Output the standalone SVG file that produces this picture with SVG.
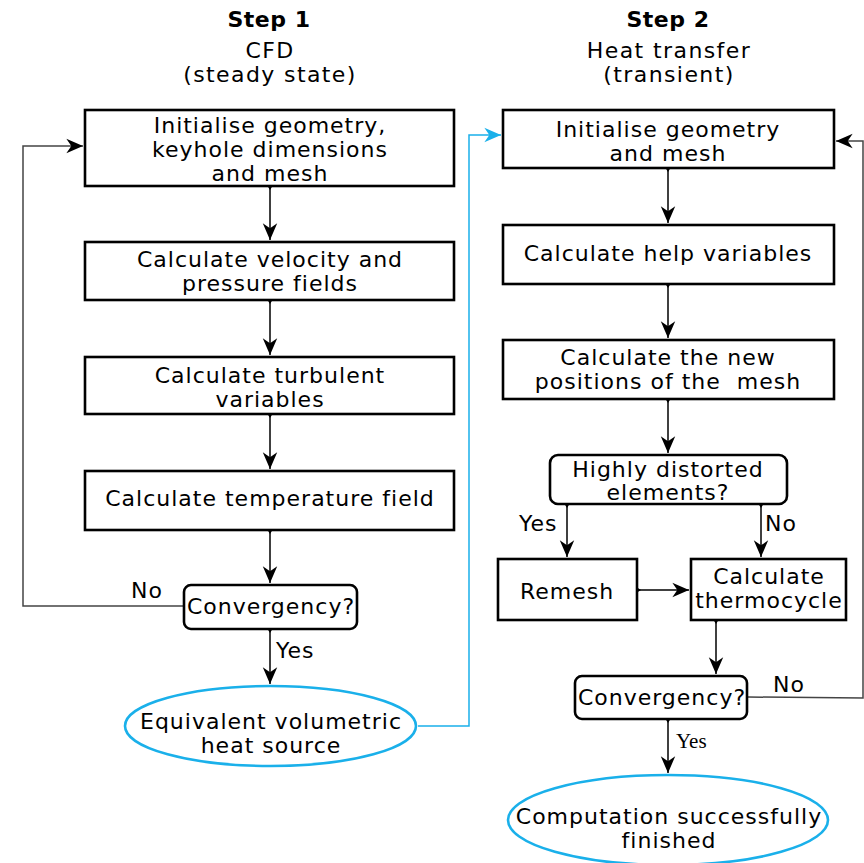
<svg xmlns="http://www.w3.org/2000/svg" width="864" height="863" viewBox="0 0 864 863">
<defs>
<style>
text{font-family:"DejaVu Sans","Verdana",sans-serif;font-size:22px;letter-spacing:1px;fill:#000;text-anchor:middle}
.title{font-weight:bold;letter-spacing:0.5px}
.sub{font-size:22px;letter-spacing:1.4px}
.serif{font-family:"Liberation Serif","Times New Roman",serif;font-size:21px;letter-spacing:0}
.box{fill:#fff;stroke:#000;stroke-width:2.6}
.oval{fill:#fff;stroke:#1ab0ea;stroke-width:2.6}
.c{fill:none;stroke:#000;stroke-width:1.5}
.cb{fill:none;stroke:#1ab0ea;stroke-width:1.5}
.cg{fill:none;stroke:#444;stroke-width:1.5}
.lbl{text-anchor:start}
</style>
<marker id="ah" markerUnits="userSpaceOnUse" markerWidth="20" markerHeight="20" viewBox="-16 -8 18 16" refX="0" refY="0" orient="auto" overflow="visible">
<path d="M0,0 L-15,-6.5 L-10.5,0 L-15,6.5 Z" fill="#000"/>
</marker>
<marker id="ahb" markerUnits="userSpaceOnUse" markerWidth="20" markerHeight="20" viewBox="-16 -8 18 16" refX="0" refY="0" orient="auto" overflow="visible">
<path d="M0,0 L-15,-6.5 L-10.5,0 L-15,6.5 Z" fill="#1ab0ea"/>
</marker>
<marker id="dot" markerUnits="userSpaceOnUse" markerWidth="6" markerHeight="6" viewBox="-3 -3 6 6" refX="0" refY="0" orient="auto" overflow="visible">
<path d="M3,0 L-1,-2.5 L-1,2.5 Z" fill="#000"/>
</marker>
</defs>

<g id="headers">
<text class="title" x="269" y="27">Step 1</text>
<text class="sub" x="270" y="58">CFD</text>
<text class="sub" x="270" y="82">(steady state)</text>
<text class="title" x="668" y="27">Step 2</text>
<text class="sub" x="669" y="58">Heat transfer</text>
<text class="sub" x="669" y="82">(transient)</text>
</g>

<g id="connectors">
<path class="c" d="M270,187 V240" marker-start="url(#dot)" marker-end="url(#ah)"/>
<path class="c" d="M270,301 V355" marker-start="url(#dot)" marker-end="url(#ah)"/>
<path class="c" d="M270,415 V469" marker-start="url(#dot)" marker-end="url(#ah)"/>
<path class="c" d="M270,531 V583" marker-start="url(#dot)" marker-end="url(#ah)"/>
<path class="c" d="M270,630 V684" marker-start="url(#dot)" marker-end="url(#ah)"/>
<path class="cg" d="M183,606 H23 V146 H83" marker-end="url(#ah)"/>
<path class="cb" d="M418,726 H469 V135 H501" marker-end="url(#ahb)"/>
<path class="c" d="M668,169 V223" marker-start="url(#dot)" marker-end="url(#ah)"/>
<path class="c" d="M668,285 V338" marker-start="url(#dot)" marker-end="url(#ah)"/>
<path class="c" d="M668,400 V453" marker-start="url(#dot)" marker-end="url(#ah)"/>
<path class="c" d="M567,505 V557" marker-start="url(#dot)" marker-end="url(#ah)"/>
<path class="c" d="M761,505 V557" marker-start="url(#dot)" marker-end="url(#ah)"/>
<path class="c" d="M638,590 H689" marker-start="url(#dot)" marker-end="url(#ah)"/>
<path class="c" d="M716,621 V674" marker-start="url(#dot)" marker-end="url(#ah)"/>
<path class="c" d="M668,720 V773" marker-start="url(#dot)" marker-end="url(#ah)"/>
<path class="cg" d="M748,697 L863,698 V141 H836" marker-end="url(#ah)"/>
<text class="lbl" x="131" y="598">No</text>
<text class="lbl" x="276" y="658">Yes</text>
<text class="lbl" x="519" y="531">Yes</text>
<text class="lbl" x="765" y="531">No</text>
<text class="lbl" x="773" y="692">No</text>
<text class="serif lbl" x="676" y="748">Yes</text>
</g>

<g id="init1">
<rect class="box" x="85" y="110" width="369" height="76"/>
<text x="270" y="133">Initialise geometry,</text>
<text x="270" y="157">keyhole dimensions</text>
<text x="270" y="181">and mesh</text>
</g>
<g id="velocity">
<rect class="box" x="85" y="242" width="369" height="58"/>
<text x="270" y="267">Calculate velocity and</text>
<text x="270" y="291">pressure fields</text>
</g>
<g id="turbulent">
<rect class="box" x="85" y="357" width="369" height="57"/>
<text x="270" y="383">Calculate turbulent</text>
<text x="270" y="407">variables</text>
</g>
<g id="temperature">
<rect class="box" x="85" y="471" width="369" height="59"/>
<text x="270" y="506">Calculate temperature field</text>
</g>
<g id="conv1">
<rect class="box" x="184" y="585" width="173" height="44" rx="7"/>
<text x="271" y="614">Convergency?</text>
</g>
<g id="heatsource">
<ellipse class="oval" cx="270.5" cy="726" rx="145.5" ry="40"/>
<text x="271" y="729">Equivalent volumetric</text>
<text x="271" y="753">heat source</text>
</g>

<g id="init2">
<rect class="box" x="503" y="110" width="331" height="58"/>
<text x="668" y="137">Initialise geometry</text>
<text x="668" y="161">and mesh</text>
</g>
<g id="help">
<rect class="box" x="503" y="225" width="331" height="59"/>
<text x="668" y="261">Calculate help variables</text>
</g>
<g id="positions">
<rect class="box" x="503" y="340" width="331" height="59"/>
<text x="668" y="365">Calculate the new</text>
<text x="668" y="389" xml:space="preserve">positions of the  mesh</text>
</g>
<g id="distorted">
<rect class="box" x="550" y="455" width="237" height="49" rx="8"/>
<text x="668" y="477">Highly distorted</text>
<text x="668" y="500">elements?</text>
</g>
<g id="remesh">
<rect class="box" x="498" y="559" width="139" height="61"/>
<text x="567" y="599">Remesh</text>
</g>
<g id="thermocycle">
<rect class="box" x="691" y="559" width="155" height="61"/>
<text x="769" y="584">Calculate</text>
<text x="769" y="608">thermocycle</text>
</g>
<g id="conv2">
<rect class="box" x="575" y="676" width="172" height="43" rx="7"/>
<text x="662" y="705">Convergency?</text>
</g>
<g id="finished">
<ellipse class="oval" cx="668" cy="820" rx="160" ry="45"/>
<text x="669" y="824">Computation successfully</text>
<text x="669" y="848">finished</text>
</g>
</svg>
